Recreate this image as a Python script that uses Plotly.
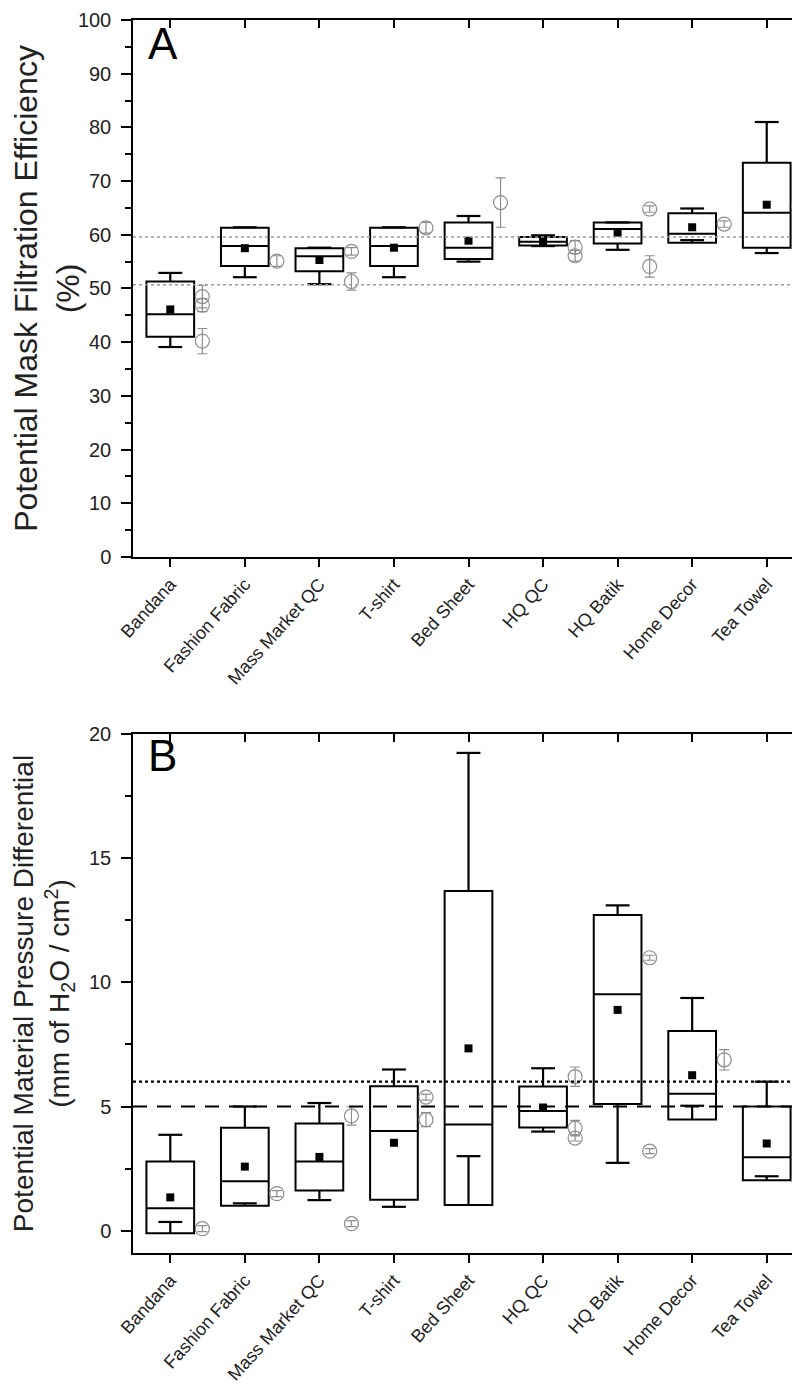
import plotly.graph_objects as go

cats = ["Bandana", "Fashion Fabric", "Mass Market QC", "T-shirt", "Bed Sheet",
        "HQ QC", "HQ Batik", "Home Decor", "Tea Towel"]
idx = list(range(len(cats)))

# Panel A: potential mask filtration efficiency (%)
a_q1 = [41.0, 54.2, 53.2, 54.2, 55.5, 58.0, 58.4, 58.5, 57.6]
a_med = [45.2, 57.9, 56.0, 57.9, 57.6, 58.7, 61.1, 60.2, 64.1]
a_q3 = [51.3, 61.3, 57.5, 61.3, 62.3, 59.6, 62.3, 64.0, 73.4]
a_lo = [39.1, 52.1, 50.8, 52.1, 55.0, 57.9, 57.2, 59.0, 56.6]
a_hi = [52.9, 61.4, 57.6, 61.4, 63.5, 59.9, 62.3, 64.9, 81.0]
a_mean = [46.1, 57.5, 55.3, 57.6, 58.9, 58.8, 60.4, 61.4, 65.6]
a_pt_cat = [0, 0, 0, 1, 2, 2, 3, 4, 5, 5, 6, 6, 7, 8]
a_pt_val = [48.5, 46.9, 40.2, 55.1, 56.9, 51.3, 61.3, 66.0, 57.7, 56.1, 64.8, 54.1, 62.0, 65.4]
a_pt_err = [2.1, 1.2, 2.35, 1.0, 0.7, 1.6, 1.0, 4.6, 1.2, 1.0, 0.6, 2.0, 0.6, 1.0]
a_ref = [59.6, 50.7]

# Panel B: potential material pressure differential (mm H2O / cm2)
b_q1 = [-0.1, 1.0, 1.62, 1.24, 1.03, 4.15, 5.1, 4.48, 2.03]
b_med = [0.9, 1.99, 2.78, 4.01, 4.27, 4.82, 9.52, 5.51, 2.96]
b_q3 = [2.78, 4.14, 4.32, 5.82, 13.68, 5.81, 12.71, 8.04, 5.0]
b_lo = [0.35, 1.1, 1.23, 0.96, 3.0, 3.99, 2.73, 5.03, 2.19]
b_hi = [3.86, 5.0, 5.14, 6.49, 19.24, 6.54, 13.1, 9.37, 6.0]
b_mean = [1.34, 2.58, 2.97, 3.54, 7.34, 4.96, 8.89, 6.26, 3.51]
b_pt_cat = [0, 1, 2, 2, 3, 3, 5, 5, 5, 6, 6, 7, 8]
b_pt_val = [0.08, 1.49, 4.62, 0.28, 5.38, 4.47, 6.2, 4.13, 3.73, 10.99, 3.2, 6.88, 2.04]
b_pt_err = [0.12, 0.12, 0.37, 0.12, 0.12, 0.28, 0.39, 0.31, 0.12, 0.1, 0.1, 0.41, 0.1]
b_ref_dot = 6.0
b_ref_dash = 5.0

BOX_W = 0.64
CAP = 0.16
PT_OFF = 0.43
GRAY = "#8e8e8e"
FONT = "Liberation Sans, Arial, sans-serif"

fig = go.Figure()


def add_panel(xa, ya, q1, med, q3, lo, hi, mean, pcat, pval, perr):
    fig.add_trace(go.Box(
        x=idx, q1=q1, median=med, q3=q3, lowerfence=q1, upperfence=q3,
        width=BOX_W, whiskerwidth=0, fillcolor="rgba(0,0,0,0)",
        line=dict(color="black", width=2), boxpoints=False,
        xaxis=xa, yaxis=ya, hoverinfo="skip", showlegend=False))
    wx, wy = [], []
    for i in idx:
        wx += [i, i, None, i, i, None,
               i - CAP, i + CAP, None, i - CAP, i + CAP, None]
        wy += [q1[i], lo[i], None, q3[i], hi[i], None,
               lo[i], lo[i], None, hi[i], hi[i], None]
    fig.add_trace(go.Scatter(x=wx, y=wy, mode="lines",
                             line=dict(color="black", width=2.2),
                             xaxis=xa, yaxis=ya, hoverinfo="skip", showlegend=False))
    fig.add_trace(go.Scatter(x=idx, y=mean, mode="markers",
                             marker=dict(symbol="square", size=8, color="black"),
                             xaxis=xa, yaxis=ya, showlegend=False))
    fig.add_trace(go.Scatter(
        x=[c + PT_OFF for c in pcat], y=pval, mode="markers", cliponaxis=False,
        marker=dict(symbol="circle-open", size=14, color=GRAY, line=dict(width=1.2, color=GRAY)),
        error_y=dict(type="data", array=perr, visible=True, color=GRAY, thickness=1.2, width=5),
        xaxis=xa, yaxis=ya, showlegend=False))


add_panel("x", "y", a_q1, a_med, a_q3, a_lo, a_hi, a_mean, a_pt_cat, a_pt_val, a_pt_err)
add_panel("x2", "y2", b_q1, b_med, b_q3, b_lo, b_hi, b_mean, b_pt_cat, b_pt_val, b_pt_err)

# helper traces so the mirrored (inward-tick) axes are drawn
fig.add_trace(go.Scatter(x=idx, y=a_mean, mode="markers", marker=dict(opacity=0),
                         xaxis="x3", yaxis="y3", hoverinfo="skip", showlegend=False))
fig.add_trace(go.Scatter(x=idx, y=b_mean, mode="markers", marker=dict(opacity=0),
                         xaxis="x4", yaxis="y4", hoverinfo="skip", showlegend=False))

# reference lines
for v in a_ref:
    fig.add_shape(type="line", xref="x domain", yref="y", x0=0, x1=1, y0=v, y1=v,
                  line=dict(color="#9a9a9a", width=1.5, dash="dot"))
fig.add_shape(type="line", xref="x2 domain", yref="y2", x0=0, x1=1, y0=b_ref_dot, y1=b_ref_dot,
              line=dict(color="black", width=2.2, dash="dot"))
fig.add_shape(type="line", xref="x2 domain", yref="y2", x0=0, x1=1, y0=b_ref_dash, y1=b_ref_dash,
              line=dict(color="black", width=2, dash="14px,10px"))

XR = [-0.5, 8.5]
A_DOM = [0.5645, 1.0]
B_DOM = [0.0, 0.4209]

xcommon = dict(range=XR, tickvals=idx, ticktext=cats, tickangle=-48,
               ticks="outside", ticklen=8, tickwidth=1.5, tickcolor="black",
               showline=True, linecolor="black", linewidth=1.5, mirror=True,
               showgrid=False, zeroline=False, automargin=False,
               tickfont=dict(family=FONT, size=18, color="#222"))
ycommon = dict(ticks="outside", ticklen=10, tickwidth=1.5, tickcolor="black",
               showline=True, linecolor="black", linewidth=1.5, mirror=True,
               showgrid=False, zeroline=False, ticklabelstandoff=6, automargin=False,
               tickfont=dict(family=FONT, size=20, color="#222"))
over_x = dict(range=XR, tickvals=idx, ticks="inside", ticklen=8, tickwidth=1.5,
              tickcolor="black", showticklabels=False, showgrid=False, zeroline=False,
              showline=False, side="top", automargin=False)
over_y = dict(ticks="inside", ticklen=8, tickwidth=1.5, tickcolor="black",
              showticklabels=False, showgrid=False, zeroline=False, showline=False,
              side="right", automargin=False)

fig.update_layout(
    width=800, height=1395,
    margin=dict(l=125, r=4, t=12, b=150),
    paper_bgcolor="white", plot_bgcolor="white",
    showlegend=False,
    xaxis=dict(**xcommon, anchor="y"),
    yaxis=dict(**ycommon, domain=A_DOM, anchor="x", range=[0, 100], dtick=10,
               minor=dict(dtick=5, ticks="outside", ticklen=6, tickwidth=1.5, tickcolor="black"),
               title=dict(text="Potential Mask Filtration Efficiency<br>(%)",
                          font=dict(family=FONT, size=32, color="#222"), standoff=10)),
    xaxis2=dict(**xcommon, anchor="y2"),
    yaxis2=dict(**ycommon, domain=B_DOM, anchor="x2", range=[-0.9, 20], tickvals=[0, 5, 10, 15, 20],
                minor=dict(tickvals=[2.5, 7.5, 12.5, 17.5], ticks="outside", ticklen=6,
                           tickwidth=1.5, tickcolor="black"),
                title=dict(text="Potential Material Pressure Differential<br>(mm of H<sub>2</sub>O / cm<sup>2</sup>)",
                           font=dict(family=FONT, size=28, color="#222"), standoff=24)),
    xaxis3=dict(**over_x, overlaying="x", anchor="y"),
    yaxis3=dict(**over_y, overlaying="y", anchor="x", range=[0, 100], dtick=5),
    xaxis4=dict(**over_x, overlaying="x2", anchor="y2"),
    yaxis4=dict(**over_y, overlaying="y2", anchor="x2", range=[-0.9, 20],
                tickvals=[0, 2.5, 5, 7.5, 10, 12.5, 15, 17.5, 20]),
    annotations=[
        dict(text="A", xref="x domain", yref="y domain", x=0.02, y=1.005,
             xanchor="left", yanchor="top", showarrow=False,
             font=dict(family=FONT, size=44, color="black")),
        dict(text="B", xref="x2 domain", yref="y2 domain", x=0.02, y=1.01,
             xanchor="left", yanchor="top", showarrow=False,
             font=dict(family=FONT, size=44, color="black")),
    ],
)

fig.write_html("out.html")
